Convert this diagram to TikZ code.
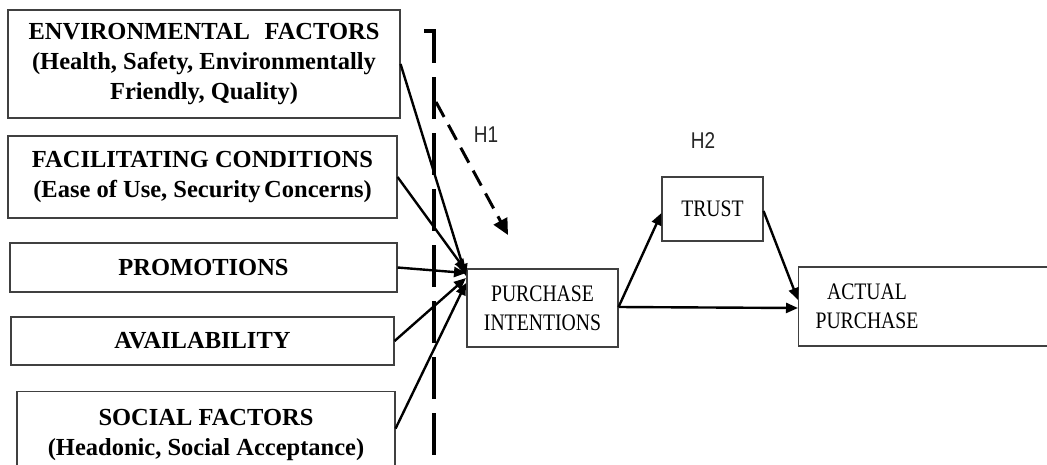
\documentclass[tikz,border=0pt]{standalone}
\usepackage{fontspec}
\setmainfont{Liberation Serif}
\newfontfamily\arialf{Liberation Sans}
\usetikzlibrary{arrows.meta}
\newcommand{\vst}[1]{\scalebox{1}[1.2]{#1}}
\begin{document}
\begin{tikzpicture}[x=1pt,y=-1pt,
  leftbox/.style={draw=black!75, line width=1.1pt, inner sep=0pt, align=center,
    font=\bfseries\fontsize{24.5}{30}\selectfont},
  rightbox/.style={draw=black!75, line width=1.1pt, inner sep=0pt, align=center,
    font=\fontsize{19.7}{29}\selectfont},
  conn/.style={line width=2.4pt, -{Triangle[length=12pt,width=10pt]}},
  hlabel/.style={font=\arialf\fontsize{19}{24}\selectfont, text=black!85},
  bracketline/.style={line width=3.2pt, dash pattern=on 42pt off 14pt},
]
\useasboundingbox (0,0) rectangle (1047,464);
\fill[white] (0,0) rectangle (1047,464);

\node[leftbox, minimum width=392pt, minimum height=108pt] (env) at (204,64)
  {ENVIRONMENTAL\hspace{0.6em}FACTORS\\(Health, Safety, Environmentally\\Friendly, Quality)};
\node[leftbox, minimum width=389pt, minimum height=82pt] (fac) at (202.5,177)
  {FACILITATING CONDITIONS\\(Ease of Use, Security\hspace{0.15em}Concerns)};
\node[leftbox, minimum width=387pt, minimum height=49pt] (pro) at (203.5,267.5)
  {PROMOTIONS};
\node[leftbox, minimum width=383pt, minimum height=48pt] (ava) at (202.5,341)
  {AVAILABILITY};
\node[leftbox, minimum width=378pt, minimum height=86pt, anchor=north] (soc) at (206,391)
  {SOCIAL FACTORS\\(Headonic, Social Acceptance)};

\node[rightbox, minimum width=151pt, minimum height=78pt] (pi) at (542.5,308)
  {\vst{PURCHASE}\\\vst{INTENTIONS}};
\node[rightbox, minimum width=101pt, minimum height=64pt] (trust) at (712.5,209)
  {\vst{TRUST}};
\node[rightbox, minimum width=262pt, minimum height=79pt, anchor=west] (ap) at (798,306.5) {};
\node[rightbox, draw=none] (aptxt) at (867,306) {\vst{ACTUAL}\\\vst{PURCHASE}};

\node[hlabel] (h1) at (486,135) {\vst{H1}};
\node[hlabel] (h2) at (703,141) {\vst{H2}};

% dashed bracket
\coordinate (bt) at (424,31);
\coordinate (bb) at (424,458);
\draw[bracketline] (bt) -- ++(10,0) -- (434,458) -- (bb);

% dashed H1 arrow
\coordinate (hs) at (436,102);
\coordinate (he) at (508,235);
\draw[line width=3pt, dash pattern=on 17pt off 9pt, -{Triangle[length=16pt,width=15pt]}] (hs) -- (he);

% arrows into purchase intentions
\coordinate (c1) at (466,276);
\coordinate (c2) at (466,271);
\coordinate (c3) at (466,273);
\coordinate (c4) at (466,278);
\coordinate (c5) at (466,283);
\draw[conn] (env.east) -- (c1);
\draw[conn] (fac.east) -- (c2);
\draw[conn] (pro.east) -- (c3);
\draw[conn] (ava.east) -- (c4);
\draw[conn] ([yshift=6pt]soc.east) -- (c5);

\draw[conn] ([yshift=1pt]pi.east) -- ([yshift=-4pt]trust.west);
\draw[conn] ([yshift=1pt]pi.east) -- ([yshift=-1.5pt]ap.west);
\draw[conn] ([yshift=-2pt]trust.east) -- ([yshift=6.5pt]ap.west);
\end{tikzpicture}
\end{document}
